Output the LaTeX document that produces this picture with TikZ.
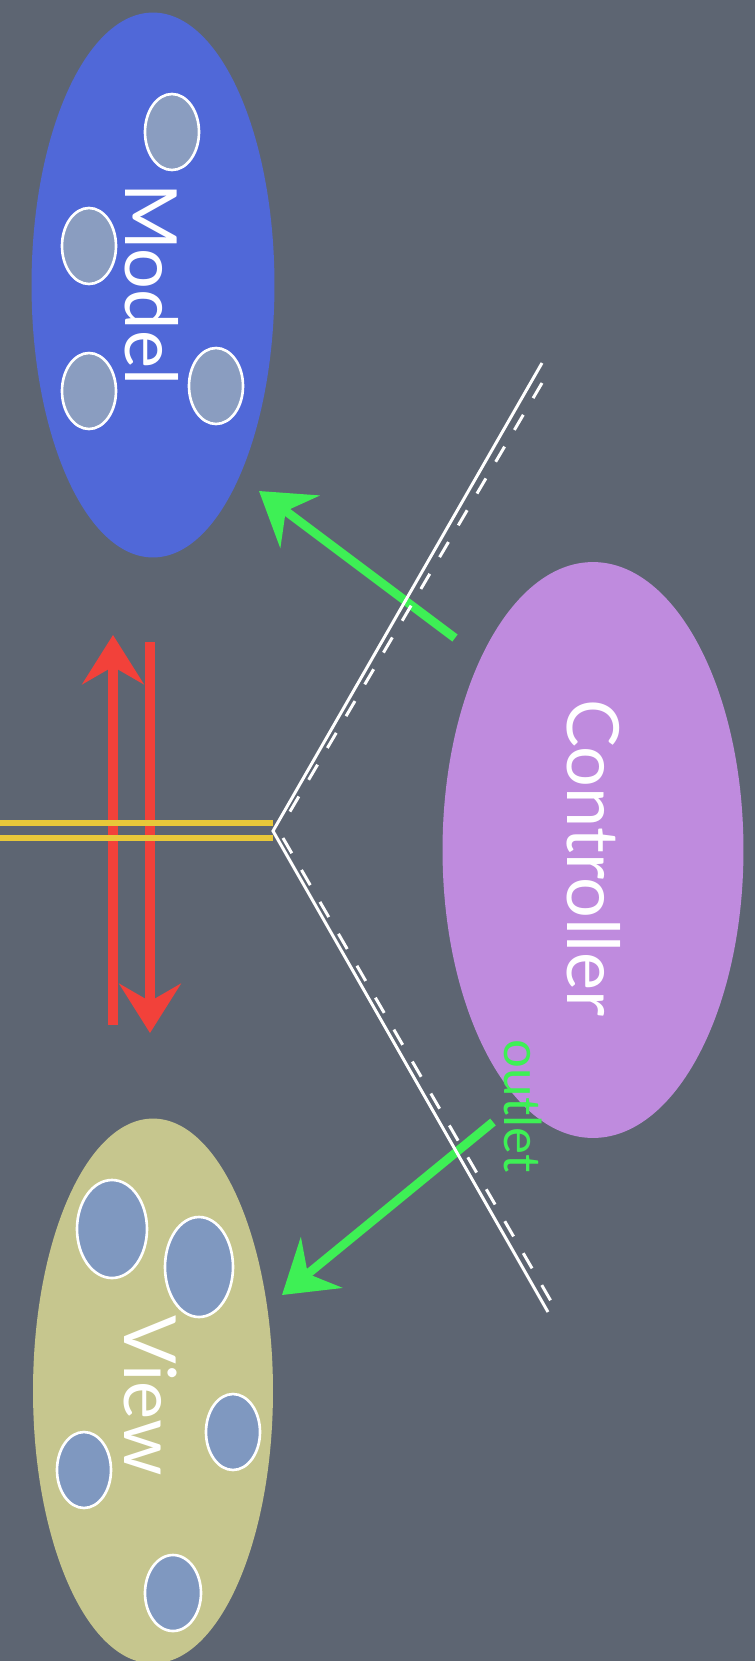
\documentclass[tikz,border=0pt]{standalone}
\usepackage{fontspec}
\setmainfont{Lato}
\usepackage{tikz}
\usetikzlibrary{positioning, arrows.meta, shapes.geometric}
\definecolor{board}{HTML}{5d6572}
\definecolor{mvcModel}{HTML}{5068d8}
\definecolor{mvcModelDot}{HTML}{8a9dc0}
\definecolor{mvcCtrl}{HTML}{bf8bde}
\definecolor{mvcView}{HTML}{c6c68e}
\definecolor{mvcViewDot}{HTML}{7f98c0}
\definecolor{chalkGreen}{HTML}{3ef055}
\definecolor{chalkRed}{HTML}{f2413a}
\definecolor{laneYellow}{HTML}{e8c83a}
\newcommand{\bigtxt}{\fontsize{41}{50}\selectfont}

\begin{document}
\begin{tikzpicture}[x=0.02cm, y=-0.02cm, blob/.style={ellipse, inner sep=0pt}, dot/.style={draw=white, line width=1.5pt}, lbl/.style={font=\bigtxt, text=white, rotate=-90, inner sep=0pt}, chalk/.style={line width=5pt, color=chalkGreen, -{Stealth[length=29pt, width=37pt, inset=10pt]}}, redarr/.style={line width=5.7pt, color=chalkRed, -{Stealth[length=28pt, width=35pt, inset=10pt]}}, lane/.style={white, line width=1.7pt}, yline/.style={laneYellow, line width=3.4pt}]
\useasboundingbox (0,0) rectangle (755,1661);
\clip (0,0) rectangle (755,1661);
\fill[board] (0,0) rectangle (755,1661);
\node[blob, fill=mvcModel, minimum width=4.86cm, minimum height=10.9cm] (model) at (153,285) {};
\node[blob, fill=mvcCtrl, minimum width=6.02cm, minimum height=11.52cm] (ctrl) at (593,850) {};
\node[blob, fill=mvcView, minimum width=4.8cm, minimum height=10.9cm] (view) at (153,1391) {};
\foreach \cx/\cy/\rx/\ry in {172/132/27/38, 89/246/27/38, 89/391/27/38, 216/386/27/38} \draw[dot, fill=mvcModelDot] (\cx,\cy) ellipse [x radius=\rx, y radius=\ry];
\foreach \cx/\cy/\rx/\ry in {112/1229/35/49, 199/1267/34/50, 233/1432/27/38, 84/1470/27/38, 173/1593/28/38} \draw[dot, fill=mvcViewDot] (\cx,\cy) ellipse [x radius=\rx, y radius=\ry];
\node[lbl] (modeltxt) at (152,284) {Model};
\node[lbl] (ctrltxt) at (594,858) {Controller};
\node[lbl] (viewtxt) at (151,1396) {View};
\coordinate (redA) at (113,1025); \coordinate (redB) at (113,635);
\coordinate (redC) at (150,642); \coordinate (redD) at (150,1033);
\draw[redarr] (redA)--(redB); \draw[redarr] (redC)--(redD);
\coordinate (vtx) at (273,831);
\draw[yline] (0,823)--(vtx|-0,823); \draw[yline] (0,838)--(vtx|-0,838);
\coordinate (toModelS) at (455,638); \coordinate (toModelE) at (259,491);
\coordinate (toViewS) at (493,1122); \coordinate (toViewE) at (282,1295);
\draw[chalk] (toModelS)--(toModelE); \draw[chalk] (toViewS)--(toViewE);
\coordinate (laneTop) at (542,363); \coordinate (laneBot) at (548,1312);
\draw[lane] (laneTop)--(vtx)--(laneBot);
\draw[lane, dash pattern=on 10pt off 11pt] (542,383)--(285,820); \draw[lane, dash pattern=on 10pt off 11pt] (283,838)--(555,1308);
\node[font=\fontsize{29}{34}\selectfont, text=chalkGreen, rotate=-90, inner sep=0pt] (outlet) at (523,1106) {outlet};
\end{tikzpicture}
\end{document}
